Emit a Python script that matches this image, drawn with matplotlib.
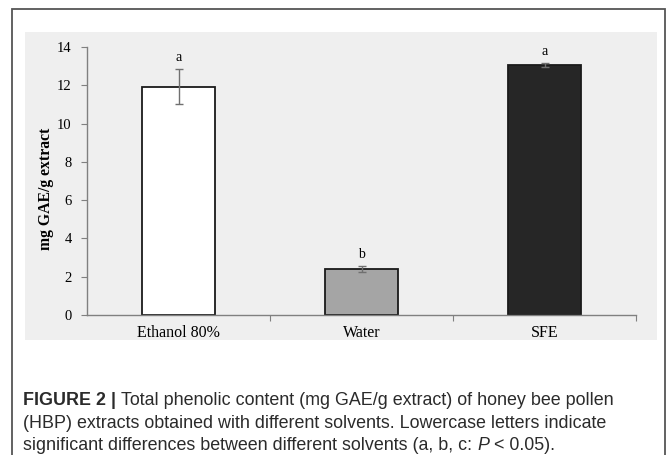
import matplotlib.pyplot as plt
from matplotlib.patches import Rectangle

solvents = ['Ethanol 80%', 'Water', 'SFE']
tpc = [11.93, 2.4, 13.05]
tpc_err = [0.92, 0.15, 0.1]
letters = ['a', 'b', 'a']
bar_colors = ['#ffffff', '#a5a5a5', '#262626']

W, H = 669, 455
fig = plt.figure(figsize=(W / 100, H / 100), dpi=100)

# outer frame of the figure panel (bottom edge falls outside the picture)
fig.patches.append(Rectangle((12 / W, -0.05), 653 / W, 1 - 9 / H + 0.05,
                             transform=fig.transFigure, fill=False,
                             edgecolor='#555555', linewidth=1.3, zorder=0))
# light gray chart background
fig.patches.append(Rectangle((25 / W, 1 - 340 / H), 632 / W, 308 / H,
                             transform=fig.transFigure, facecolor='#efefef',
                             edgecolor='none', zorder=0))

ax = fig.add_axes([87 / W, 1 - 315 / H, 549 / W, 268 / H])
ax.set_zorder(2)
ax.patch.set_visible(False)

x = list(range(len(solvents)))
ax.bar(x, tpc, width=0.4, color=bar_colors, edgecolor='#1a1a1a', linewidth=1.3,
       zorder=2)
ax.errorbar(x, tpc, yerr=tpc_err, fmt='none', ecolor='#707070', elinewidth=1,
            capsize=2.6, capthick=1, zorder=3)
for xi, v, e, lab in zip(x, tpc, tpc_err, letters):
    ax.text(xi, v + e + 0.6, lab, ha='center', va='center',
            fontfamily='Liberation Serif', fontsize=10)

ax.set_xlim(-0.5, 2.5)
ax.set_ylim(0, 14)
ax.set_yticks(range(0, 15, 2))
ax.set_xticks([0.5, 1.5, 2.5], minor=False)
ax.set_xticklabels([])
ax.set_xticks(x, minor=True)
ax.set_xticklabels(solvents, minor=True, fontfamily='Liberation Serif', fontsize=11.5)
ax.tick_params(axis='x', which='minor', length=0, pad=7)
ax.tick_params(axis='x', which='major', length=4, color='#808080', direction='out')
ax.tick_params(axis='y', length=4, color='#808080', direction='out',
               labelsize=10.5, pad=7)
for lbl in ax.get_yticklabels():
    lbl.set_fontfamily('Liberation Serif')
for s in ['top', 'right']:
    ax.spines[s].set_visible(False)
for s in ['left', 'bottom']:
    ax.spines[s].set_color('#808080')
    ax.spines[s].set_linewidth(1)
ax.set_ylabel('mg GAE/g extract', fontfamily='Liberation Serif', fontweight='bold',
              fontsize=11.3, va='center')
ax.yaxis.set_label_coords(-0.075, 0.47)

# caption
cap_font = ['Liberation Sans', 'DejaVu Sans']
renderer = fig.canvas.get_renderer()

# fit the first caption line to its width in the reference (~592 px)
probe = fig.text(0, 0, 'FIGURE 2 | Total phenolic content (mg GAE/g extract) of honey bee pollen',
                 fontsize=12, family=cap_font)
cap_size = 12 * 592 / probe.get_window_extent(renderer=renderer).width
probe.remove()


def put_line(segments, y0):
    xpos = 23 / W
    for txt, kw in segments:
        t = fig.text(xpos, y0, txt, fontsize=cap_size, family=cap_font,
                     color='#2b2b2b', va='baseline', **kw)
        bb = t.get_window_extent(renderer=renderer)
        xpos += bb.width / W


put_line([('FIGURE 2 | ', dict(fontweight='bold')),
          ('Total phenolic content (mg GAE/g extract) of honey bee pollen', {})],
         1 - 405 / H)
put_line([('(HBP) extracts obtained with different solvents. Lowercase letters indicate', {})],
         1 - 428 / H)
put_line([('significant differences between different solvents (a, b, c: ', {}),
          ('P', dict(style='italic')),
          (' < 0.05).', {})],
         1 - 450 / H)

fig.savefig('out.png', dpi=100)
